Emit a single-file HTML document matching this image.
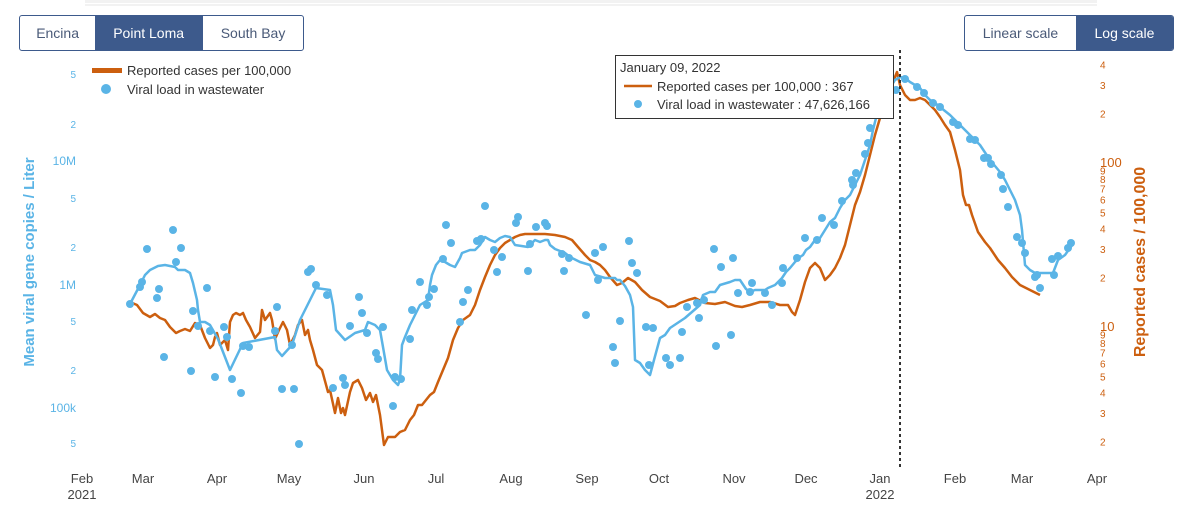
<!DOCTYPE html>
<html><head><meta charset="utf-8"><style>
body{margin:0;background:#fff;font-family:"Liberation Sans",sans-serif}
.g{position:absolute;display:flex;border:1px solid #3d5a8c;border-radius:3px;overflow:hidden;height:34px}
.g div{display:flex;align-items:center;justify-content:center;font-size:14px;color:#4a5a78}
.g div.a{background:#3d5a8c;color:#fff}
</style></head><body>
<div class="g" style="left:19px;top:15px;width:283px">
<div style="width:76px">Encina</div><div class="a" style="width:108px">Point Loma</div><div style="width:101px;border-left:1px solid #3d5a8c">South Bay</div></div>
<div class="g" style="left:964px;top:15px;width:208px">
<div style="width:112px">Linear scale</div><div class="a" style="width:98px">Log scale</div></div>
<svg id="s" width="1189" height="518" style="position:absolute;left:0;top:0" font-family="Liberation Sans, sans-serif">
</svg>
<script>
var s=document.getElementById('s'),h='';
var O='#cc5f0f',B='#5ab4e6';
var L=[[74,'5'],[124,'2'],[161,'10M'],[198,'5'],[247,'2'],[285,'1M'],[321,'5'],[370,'2'],[408,'100k'],[443,'5']];
L.forEach(function(t){h+='<line x1="85" x2="1097" y1="'+t[1]+'" y2="'+t[1]+'" stroke="#e4e4e4"/>';});
L.forEach(function(t){h+='<text x="76" y="'+(t[0]+4)+'" text-anchor="end" font-size="'+(t[1].length>1?12:10)+'" fill="#5ab4e6">'+t[1]+'</text>';});
var R=[];
[4,3,2].forEach(function(v){R.push([163-164*Math.log10(v),''+v,10]);});
R.push([163,'100',13]);
[9,8,7,6,5,4,3,2].forEach(function(v){R.push([327-164*Math.log10(v),''+v,10]);});
R.push([327,'10',13]);
[9,8,7,6,5,4,3,2].forEach(function(v){R.push([491-164*Math.log10(v),''+v,10]);});
R.forEach(function(t){h+='<text x="1100" y="'+(t[0]+4)+'" font-size="'+t[2]+'" fill="'+O+'">'+t[1]+'</text>';});
var M=[[82,'Feb'],[143,'Mar'],[217,'Apr'],[289,'May'],[364,'Jun'],[436,'Jul'],[511,'Aug'],[587,'Sep'],[659,'Oct'],[734,'Nov'],[806,'Dec'],[880,'Jan'],[955,'Feb'],[1022,'Mar'],[1097,'Apr']];
M.forEach(function(m){h+='<text x="'+m[0]+'" y="483" text-anchor="middle" font-size="13" fill="#444">'+m[1]+'</text>';});
h+='<text x="82" y="499" text-anchor="middle" font-size="13" fill="#444">2021</text><text x="880" y="499" text-anchor="middle" font-size="13" fill="#444">2022</text>';
h+='<text transform="translate(34,262) rotate(-90)" text-anchor="middle" font-size="15" font-weight="bold" fill="'+B+'">Mean viral gene copies / Liter</text>';
h+='<text transform="translate(1145,262) rotate(-90)" text-anchor="middle" font-size="16" font-weight="bold" fill="'+O+'">Reported cases / 100,000</text>';
var op="130,302 137,305 143,313 150,317 155,314 160,318 165,320 170,327 176,333 180,331 185,329 190,331 195,323 200,325 205,338 210,348 213,345 215,337 217,333 220,345 225,340 228,350 230,322 233,315 236,313 240,315 243,313 246,320 250,327 255,338 260,332 262,310 265,320 270,313 272,320 275,339 279,330 283,322 287,330 290,345 295,335 298,325 302,320 305,335 308,330 310,340 313,350 317,365 322,370 328,392 330,390 335,413 338,398 341,413 343,408 345,415 350,392 353,383 358,380 362,388 366,400 370,393 373,402 376,395 380,415 384,445 388,437 395,437 400,432 405,430 410,420 414,415 418,405 422,405 426,400 430,395 434,392 438,382 443,370 448,358 453,340 458,328 463,320 470,315 475,305 480,290 485,277 490,265 495,255 500,248 505,243 510,240 515,237 520,235 525,234 535,234 545,234 555,235 565,237 572,240 578,247 585,255 590,260 595,262 600,265 605,270 610,277 617,285 622,283 628,278 635,282 642,290 650,297 660,301 668,307 675,306 680,303 688,300 695,298 705,303 715,304 725,302 735,306 742,307 750,305 760,302 770,302 780,305 788,305 792,312 795,315 800,300 805,282 810,268 815,263 820,268 825,280 830,275 835,268 840,258 845,245 850,225 855,205 860,192 865,175 870,155 875,135 880,118 885,105 890,90 895,77 897,72 900,85 905,95 910,100 915,100 920,98 925,100 930,105 935,110 940,117 945,125 950,132 955,150 960,170 963,195 966,205 969,205 972,215 978,232 985,242 990,248 998,260 1005,268 1012,277 1020,285 1030,290 1040,295";
var bp="130,304 140,285 145,275 150,270 158,266 165,265 175,267 178,270 185,270 190,273 193,283 197,300 198,310 200,322 205,322 210,325 218,339 230,370 243,343 275,337 277,350 282,356 292,345 300,320 310,300 316,288 330,290 333,305 336,330 345,340 355,333 365,330 368,322 375,325 380,330 383,347 387,370 393,380 398,385 400,380 402,345 405,337 410,325 415,315 420,305 428,300 430,285 432,275 436,265 440,260 445,262 450,265 455,267 460,258 462,253 470,250 475,250 480,245 485,237 490,240 495,242 500,238 505,236 510,237 515,245 528,247 535,240 540,242 545,240 548,240 550,245 555,249 565,253 570,257 580,262 590,265 595,275 605,278 615,278 617,280 620,280 625,286 630,295 633,307 635,360 640,363 645,370 650,375 654,360 660,338 665,335 670,328 685,318 700,305 703,295 710,292 715,292 720,285 730,282 735,280 740,280 746,289 750,292 755,290 765,290 768,288 775,285 782,278 786,272 790,268 795,262 800,257 803,255 806,250 810,247 815,240 820,238 825,230 830,222 835,218 840,208 845,200 850,195 855,185 860,175 865,160 870,145 873,130 876,118 880,105 885,95 890,88 895,80 900,77 905,78 910,82 915,85 920,88 925,95 930,100 935,103 940,107 950,115 960,125 970,135 980,145 990,160 1000,172 1005,180 1010,190 1015,200 1020,215 1022,230 1025,265 1030,270 1035,273 1045,273 1053,273 1058,260 1065,255 1070,248 1073,244";
h+='<polyline points="'+op+'" fill="none" stroke="'+O+'" stroke-width="2.5" stroke-linejoin="round"/>';
h+='<polyline points="'+bp+'" fill="none" stroke="'+B+'" stroke-width="2.5" stroke-linejoin="round"/>';
var d=[130,304,173,230,147,249,181,248,176,262,142,282,140,287,159,289,157,298,207,288,193,311,198,326,210,331,224,327,227,337,164,357,191,371,215,377,232,379,241,393,243,346,249,347,277,307,275,331,292,345,282,389,294,389,299,444,308,272,311,269,316,285,327,295,359,297,362,313,350,326,367,333,383,327,376,353,378,359,333,388,343,378,345,385,393,406,395,377,401,379,410,339,412,310,420,282,427,305,429,297,434,289,443,259,446,225,451,243,463,302,468,290,460,322,477,241,485,206,481,239,494,250,497,272,502,257,516,223,518,217,530,244,528,271,536,227,545,223,547,226,562,254,564,271,569,258,595,253,603,247,598,280,586,315,613,347,615,363,620,321,629,241,632,263,637,273,646,327,653,328,649,365,666,358,670,365,680,358,682,332,687,307,697,303,699,318,704,300,714,249,721,267,733,258,716,346,731,335,738,293,752,283,750,292,765,293,772,305,782,283,783,268,797,258,805,238,817,240,822,218,834,225,842,201,852,180,856,173,853,185,865,154,868,143,870,128,878,98,883,90,896,90,905,79,917,87,924,93,933,103,940,107,953,122,958,125,970,139,975,140,984,158,988,158,991,164,1001,175,1003,189,1008,207,1017,237,1022,243,1025,253,1035,277,1037,275,1040,288,1054,275,1052,259,1058,256,1068,248,1071,243];
for(var i=0;i<d.length;i+=2)h+='<circle cx="'+d[i]+'" cy="'+d[i+1]+'" r="4" fill="'+B+'"/>';
h+='<line x1="900" x2="900" y1="50" y2="468" stroke="#333" stroke-width="2" stroke-dasharray="3,3"/>';
// legend
h+='<rect x="92" y="68" width="30" height="5" fill="'+O+'"/><text x="127" y="75" font-size="13" fill="#333">Reported cases per 100,000</text>';
h+='<circle cx="106" cy="89" r="5" fill="'+B+'"/><text x="127" y="94" font-size="13" fill="#333">Viral load in wastewater</text>';
// tooltip
h+='<rect x="615.5" y="55.5" width="278" height="63" fill="#fff" stroke="#333"/>';
h+='<text x="620" y="72" font-size="13" fill="#333">January 09, 2022</text>';
h+='<line x1="624" x2="652" y1="86" y2="86" stroke="'+O+'" stroke-width="2.5"/><text x="657" y="91" font-size="13" fill="#333">Reported cases per 100,000 : 367</text>';
h+='<circle cx="638" cy="104" r="4" fill="'+B+'"/><text x="657" y="109" font-size="13" fill="#333">Viral load in wastewater : 47,626,166</text>';
s.innerHTML=h;
</script>
</body></html>
